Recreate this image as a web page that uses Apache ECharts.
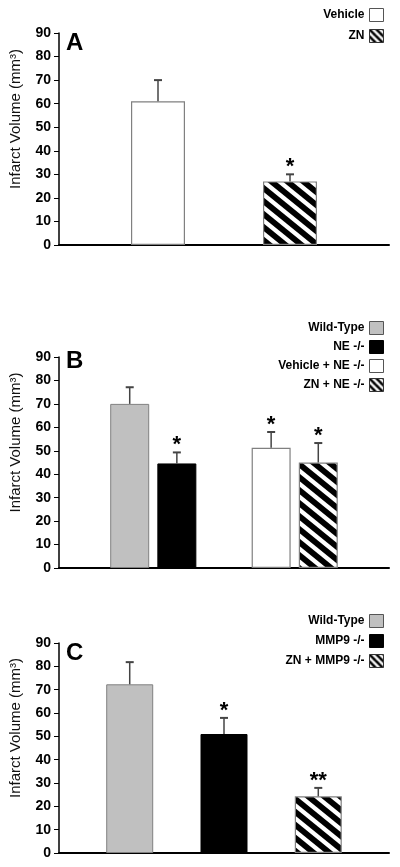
<!DOCTYPE html>
<html>
<head>
<meta charset="utf-8">
<script src="https://cdn.jsdelivr.net/npm/echarts@6/dist/echarts.min.js"></script>
<style>
html,body{margin:0;padding:0;background:#fff;}
#chart{width:400px;height:867px;}
</style>
</head>
<body>
<div id="chart"></div>
<script>
// ---------- DATA ----------
const yMin = 0, yMax = 90, yStep = 10;
const yAxisTitle = 'Infarct Volume (mm\u00B3)';

const panelALetter = 'A';
const panelALabels = ['Vehicle', 'ZN'];
const panelAMeans = [61, 27];
const panelAErrors = [9, 3];
const panelASig = ['', '*'];

const panelBLetter = 'B';
const panelBLabels = ['Wild-Type', 'NE -/-', 'Vehicle + NE -/-', 'ZN + NE -/-'];
const panelBMeans = [70, 44.6, 51.3, 45];
const panelBErrors = [7.1, 4.7, 6.7, 8.3];
const panelBSig = ['', '*', '*', '*'];

const panelCLetter = 'C';
const panelCLabels = ['Wild-Type', 'MMP9 -/-', 'ZN + MMP9 -/-'];
const panelCMeans = [72.3, 51, 24.3];
const panelCErrors = [9.5, 6.9, 3.6];
const panelCSig = ['', '*', '**'];

// ---------- STYLE / LAYOUT ----------
const FONT = '"Liberation Sans", Arial, Helvetica, sans-serif';

function makeHatch(w, h, lw) {
  const c = document.createElement('canvas');
  c.width = w; c.height = h;
  const g = c.getContext('2d');
  g.fillStyle = '#fff'; g.fillRect(0, 0, w, h);
  g.strokeStyle = '#000'; g.lineWidth = lw; g.lineCap = 'butt';
  for (let k = -2; k <= 2; k++) {
    g.beginPath();
    g.moveTo(k * w - w, -h); g.lineTo(k * w + 2 * w, 2 * h);
    g.stroke();
  }
  return c;
}
const hatchBar = { image: makeHatch(16, 13, 5.8), repeat: 'repeat' };
const hatchLegend = { image: makeHatch(7, 7, 2.6), repeat: 'repeat' };

const STYLES = {
  gray:  { color: '#c0c0c0', borderColor: '#808080', borderWidth: 1 },
  black: { color: '#000000', borderColor: '#000000', borderWidth: 1 },
  white: { color: '#ffffff', borderColor: '#808080', borderWidth: 1.2 },
  hatch: { color: hatchBar, borderColor: '#808080', borderWidth: 1.2 }
};
const LEGEND_STYLES = {
  gray:  { color: '#c0c0c0', borderColor: '#555', borderWidth: 1 },
  black: { color: '#000', borderColor: '#000', borderWidth: 1 },
  white: { color: '#fff', borderColor: '#555', borderWidth: 1 },
  hatch: { color: hatchLegend, borderColor: '#333', borderWidth: 1 }
};

const panels = [
  { letter: panelALetter, labels: panelALabels, means: panelAMeans, errs: panelAErrors, sig: panelASig,
    styles: ['white', 'hatch'], nSlots: 5, slots: [1, 3], barWidth: 54,
    grid: { top: 33, height: 212 }, letterTop: 31, legendTop: 8, legendGap: 7 },
  { letter: panelBLetter, labels: panelBLabels, means: panelBMeans, errs: panelBErrors, sig: panelBSig,
    styles: ['gray', 'black', 'white', 'hatch'], nSlots: 7, slots: [1, 2, 4, 5], barWidth: 39,
    grid: { top: 357, height: 211 }, letterTop: 349, legendTop: 321, legendGap: 5 },
  { letter: panelCLetter, labels: panelCLabels, means: panelCMeans, errs: panelCErrors, sig: panelCSig,
    styles: ['gray', 'black', 'hatch'], nSlots: 7, slots: [1, 3, 5], barWidth: 47,
    grid: { top: 643, height: 210 }, letterTop: 641, legendTop: 614, legendGap: 6 }
];

const option = {
  animation: false,
  backgroundColor: '#fff',
  textStyle: { fontFamily: FONT },
  title: [], legend: [], grid: [], xAxis: [], yAxis: [], series: []
};

panels.forEach((p, pi) => {
  option.grid.push({ left: 58, right: 11, top: p.grid.top, height: p.grid.height, containLabel: false });
  option.title.push({
    text: p.letter, left: 66, top: p.letterTop, padding: 0,
    textStyle: { fontFamily: FONT, fontSize: 24, fontWeight: 'bold', color: '#000' }
  });
  const cats = [];
  for (let i = 0; i < p.nSlots; i++) {
    const k = p.slots.indexOf(i);
    cats.push(k >= 0 ? p.labels[k] : ' '.repeat(i + 1));
  }
  option.xAxis.push({
    type: 'category', gridIndex: pi, data: cats,
    axisLine: { show: true, lineStyle: { color: '#000', width: 2 } },
    axisTick: { show: false }, axisLabel: { show: false }, splitLine: { show: false }
  });
  option.yAxis.push({
    type: 'value', gridIndex: pi, min: yMin, max: yMax, interval: yStep,
    name: yAxisTitle, nameLocation: 'middle', nameGap: 36,
    nameTextStyle: { fontFamily: FONT, fontSize: 15, color: '#111', padding: [0, 0, 0, 40] },
    axisLine: { show: true, lineStyle: { color: '#000', width: 1.5 } },
    axisTick: { show: true, inside: false, length: 5, lineStyle: { color: '#000', width: 1 } },
    axisLabel: { fontFamily: FONT, fontSize: 14, fontWeight: 'bold', color: '#000', margin: 8 },
    splitLine: { show: false }
  });
  option.legend.push({
    orient: 'vertical', right: 16, top: p.legendTop, align: 'right', padding: 0,
    itemWidth: 14, itemHeight: 13, itemGap: p.legendGap, selectedMode: false, icon: 'rect',
    textStyle: { fontFamily: FONT, fontSize: 12, fontWeight: 'bold', color: '#000' },
    data: p.labels.map((name, k) => ({ name, icon: 'rect', itemStyle: LEGEND_STYLES[p.styles[k]] }))
  });
  p.labels.forEach((name, k) => {
    const data = new Array(p.nSlots).fill(null);
    data[p.slots[k]] = p.means[k];
    option.series.push({
      type: 'bar', name, xAxisIndex: pi, yAxisIndex: pi, stack: 'panel' + pi,
      barWidth: p.barWidth, data, itemStyle: STYLES[p.styles[k]], z: 2
    });
  });
  const sig = p.sig;
  option.series.push({
    type: 'custom', name: 'err' + pi, xAxisIndex: pi, yAxisIndex: pi, z: 5,
    encode: { x: 0, y: [1, 2] },
    data: p.means.map((m, k) => [p.slots[k], m, m + p.errs[k]]),
    renderItem: function (params, api) {
      const x = api.value(0), m = api.value(1), t = api.value(2);
      const a = api.coord([x, m]), b = api.coord([x, t]);
      const s = sig[params.dataIndex];
      const ls = { stroke: '#444', lineWidth: 1.5 };
      return {
        type: 'group',
        children: [
          { type: 'line', shape: { x1: a[0], y1: a[1], x2: b[0], y2: b[1] }, style: ls },
          { type: 'line', shape: { x1: b[0] - 4, y1: b[1], x2: b[0] + 4, y2: b[1] }, style: { stroke: '#444', lineWidth: 2 } },
          { type: 'text', x: b[0], y: b[1] - 7,
            style: { text: s, font: 'bold 22px ' + FONT, fill: '#000', align: 'center', verticalAlign: 'middle' } }
        ]
      };
    }
  });
});

const chart = echarts.init(document.getElementById('chart'), null, { renderer: 'canvas' });
chart.setOption(option);
</script>
</body>
</html>
